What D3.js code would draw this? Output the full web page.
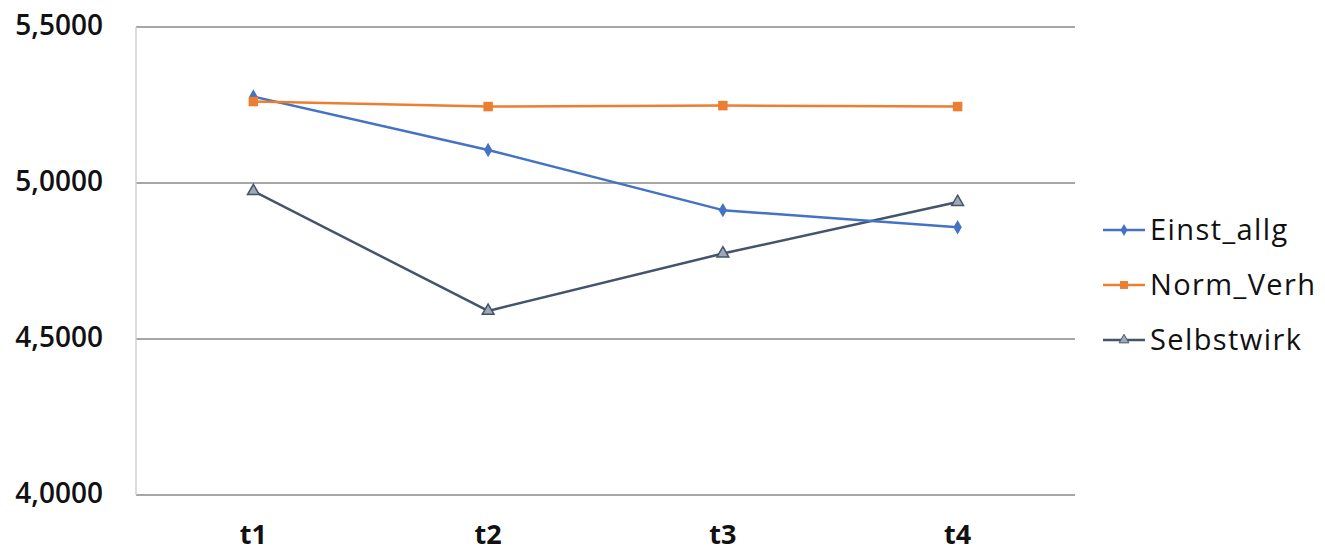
<!DOCTYPE html>
<html><head><meta charset="utf-8">
<script src="https://cdn.jsdelivr.net/npm/d3@7"></script>
<style>body{margin:0;background:#fff;}svg{display:block;}text{font-family:"Open Sans","Liberation Sans",sans-serif;fill:#111;}</style>
</head><body>
<svg id="c" width="1325" height="555"></svg>
<script>
const categories = ["t1","t2","t3","t4"];
const seriesNames = ["Einst_allg","Norm_Verh","Selbstwirk"];
const einstAllg = [5.277, 5.106, 4.913, 4.858];
const normVerh = [5.261, 5.245, 5.248, 5.245];
const selbstwirk = [4.974, 4.590, 4.774, 4.939];
const yTicks = [4.0, 4.5, 5.0, 5.5];
const colors = ["#4472C4","#ED7D31","#44546A"];
const seriesValues = [einstAllg, normVerh, selbstwirk];

const svg = d3.select("#c");
const L = 136, R = 1075, T = 27, B = 495;
const x = d3.scaleBand().domain(categories).range([L, R]);
const y = d3.scaleLinear().domain([4.0, 5.5]).range([B, T]);
const fmt = v => v.toFixed(4).replace(".", ",");

// gridlines
svg.append("g").selectAll("line").data(yTicks).join("line")
  .attr("x1", L).attr("x2", R).attr("y1", d => y(d)).attr("y2", d => y(d))
  .attr("stroke", "#a6a6a6").attr("stroke-width", 2);
// vertical axis line
svg.append("line").attr("x1", L).attr("x2", L).attr("y1", T).attr("y2", B)
  .attr("stroke", "#d0d0d0").attr("stroke-width", 1.5);

// y labels
svg.append("g").selectAll("text").data(yTicks).join("text")
  .attr("x", 103).attr("y", d => y(d) - 2).attr("dy", "0.35em")
  .attr("text-anchor", "end").attr("font-size", 28).attr("font-weight", 600)
  .text(fmt);
// x labels
svg.append("g").selectAll("text").data(categories).join("text")
  .attr("x", d => x(d) + x.bandwidth() / 2).attr("y", 544)
  .attr("text-anchor", "middle").attr("font-size", 27).attr("font-weight", 700)
  .text(d => d);

const symbols = [d3.symbolDiamond, d3.symbolSquare, d3.symbolTriangle];
const symSizes = [60, 90, 60];
const line = d3.line().x((d, i) => x(categories[i]) + x.bandwidth() / 2).y(d => y(d));

// draw order: Selbstwirk, Einst_allg, Norm_Verh (orange on top at t1)
[2, 0, 1].forEach(si => {
  const vals = seriesValues[si];
  svg.append("path").datum(vals).attr("d", line).attr("fill", "none")
    .attr("stroke", colors[si]).attr("stroke-width", 2.5).attr("stroke-linejoin", "round");
  svg.append("g").selectAll("path").data(vals).join("path")
    .attr("transform", (d, i) => `translate(${x(categories[i]) + x.bandwidth() / 2},${y(d)})`)
    .attr("d", d3.symbol().type(symbols[si]).size(symSizes[si]))
    .attr("fill", si === 2 ? "#a0a8b4" : colors[si])
    .attr("stroke", colors[si]).attr("stroke-width", si === 2 ? 1.5 : 0);
});

// legend
const legY = [230, 285, 340];
const lg = svg.append("g");
seriesNames.forEach((n, i) => {
  lg.append("line").attr("x1", 1103).attr("x2", 1145).attr("y1", legY[i]).attr("y2", legY[i])
    .attr("stroke", colors[i]).attr("stroke-width", 2.5);
  lg.append("path").attr("transform", `translate(1124,${legY[i]})`)
    .attr("d", d3.symbol().type(symbols[i]).size(symSizes[i] * 0.7))
    .attr("fill", i === 2 ? "#a0a8b4" : colors[i]).attr("stroke", colors[i]).attr("stroke-width", i === 2 ? 1 : 0);
  lg.append("text").attr("x", 1150).attr("y", legY[i]).attr("dy", "0.35em")
    .attr("font-size", 29).attr("font-weight", 500).attr("letter-spacing", 1.4).text(n);
});
</script>
</body></html>
